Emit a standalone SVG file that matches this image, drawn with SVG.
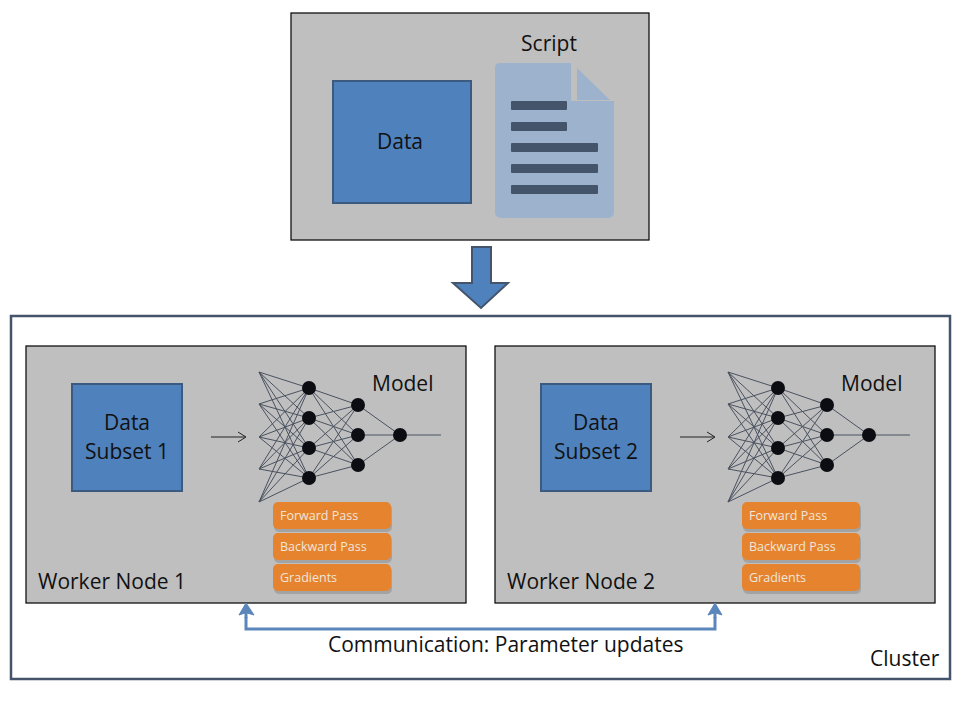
<svg xmlns="http://www.w3.org/2000/svg" width="960" height="720" viewBox="0 0 960 720">
<style>
text{font-family:"Open Sans","Noto Sans","Liberation Sans",sans-serif;fill:#111}
.t{font-size:21px}
.c{text-anchor:middle}
.panel{fill:#bfbfbf;stroke:#111;stroke-width:1.3}
.shadow{fill:#8c8c8c;opacity:.55}
.blue{fill:#4f81bd;stroke:#3c5a80;stroke-width:2}
.edge{fill:none;stroke:#4a5260;stroke-width:1}
.dot{fill:#0b0d12}
.or{fill:#e5832f}
.ot{font-size:12.5px;fill:#f0e6da}
.line{fill:#44546a}
.comm{fill:none;stroke:#5b86bb;stroke-width:3}
</style>
<defs>
<g id="net">
<path class="edge" d="M259 372L309 388M259 372L309 418M259 372L309 448M259 372L309 478M259 404L309 388M259 404L309 418M259 404L309 448M259 404L309 478M259 437L309 388M259 437L309 418M259 437L309 448M259 437L309 478M259 469L309 388M259 469L309 418M259 469L309 448M259 469L309 478M259 502L309 388M259 502L309 418M259 502L309 448M259 502L309 478M309 388L358 405M309 388L358 435M309 388L358 465M309 418L358 405M309 418L358 435M309 418L358 465M309 448L358 405M309 448L358 435M309 448L358 465M309 478L358 405M309 478L358 435M309 478L358 465M358 405L400 435M358 435L400 435M358 465L400 435M400 435L441 435"/>
<circle class="dot" cx="309" cy="388" r="7"/><circle class="dot" cx="309" cy="418" r="7"/><circle class="dot" cx="309" cy="448" r="7"/><circle class="dot" cx="309" cy="478" r="7"/>
<circle class="dot" cx="358" cy="405" r="7"/><circle class="dot" cx="358" cy="435" r="7"/><circle class="dot" cx="358" cy="465" r="7"/><circle class="dot" cx="400" cy="435" r="7"/>
</g>
<g id="pills">
<rect class="shadow" x="274" y="504" width="118" height="28" rx="5"/><rect class="or" x="273" y="502" width="118" height="27" rx="5"/>
<rect class="shadow" x="274" y="535" width="118" height="28" rx="5"/><rect class="or" x="273" y="533" width="118" height="27" rx="5"/>
<rect class="shadow" x="274" y="566" width="118" height="28" rx="5"/><rect class="or" x="273" y="564" width="118" height="27" rx="5"/>
</g>
</defs>
<rect width="960" height="720" fill="#fff"/>

<g id="source-node">
<rect class="panel" x="291" y="13" width="358" height="227"/>
<rect class="blue" x="333" y="81" width="138" height="122"/>
<text class="t c" x="400" y="149">Data</text>
<path d="M500 63H571V101H614V212Q614 218 607 218H502Q495 218 495 212V68Q495 63 500 63Z" fill="#9db3cd"/>
<path d="M577 68L610 100H577Z" fill="#9db3cd"/>
<rect class="line" x="511" y="101" width="56" height="9" rx="1"/>
<rect class="line" x="511" y="122" width="56" height="9" rx="1"/>
<rect class="line" x="511" y="143" width="87" height="9" rx="1"/>
<rect class="line" x="511" y="164" width="87" height="9" rx="1"/>
<rect class="line" x="511" y="185" width="87" height="9" rx="1"/>
<text class="t c" x="549" y="51">Script</text>
</g>

<g id="cluster">
<rect x="11" y="316" width="939" height="363" fill="#fff" stroke="#44546a" stroke-width="2.5"/>
<text class="t" x="870" y="666">Cluster</text>
</g>

<g id="worker-1">
<rect class="panel" x="26" y="346" width="440" height="257"/>
<rect class="blue" x="72" y="384" width="110" height="107"/>
<text class="t c" x="127" y="430">Data</text>
<text class="t c" x="127" y="459">Subset 1</text>
<path d="M211 437H245M238 432L246 437L238 442" fill="none" stroke="#222" stroke-width="1"/>
<use href="#net"/>
<text class="t" x="372" y="391">Model</text>
<use href="#pills"/>
<text class="ot" x="280" y="520">Forward Pass</text>
<text class="ot" x="280" y="551">Backward Pass</text>
<text class="ot" x="280" y="582">Gradients</text>
<text class="t" x="38" y="589">Worker Node 1</text>
</g>

<g id="worker-2">
<rect class="panel" x="495" y="346" width="440" height="257"/>
<rect class="blue" x="541" y="384" width="110" height="107"/>
<text class="t c" x="596" y="430">Data</text>
<text class="t c" x="596" y="459">Subset 2</text>
<path d="M680 437H714M707 432L715 437L707 442" fill="none" stroke="#222" stroke-width="1"/>
<use href="#net" x="469"/>
<text class="t" x="841" y="391">Model</text>
<use href="#pills" x="469"/>
<text class="ot" x="749" y="520">Forward Pass</text>
<text class="ot" x="749" y="551">Backward Pass</text>
<text class="ot" x="749" y="582">Gradients</text>
<text class="t" x="507" y="589">Worker Node 2</text>
</g>

<g id="connectors">
<path d="M472 247H491V283H508L481 308L453 283H472Z" fill="#4f81bd" stroke="#44546a" stroke-width="2"/>
<path class="comm" d="M246 617V629H715V617"/>
<path d="M246 603L254 615L247 613V618H245V613L239 615Z" fill="#5b86bb" stroke="#5b86bb"/>
<path d="M715 603L722 615L716 613V618H714V613L708 615Z" fill="#5b86bb" stroke="#5b86bb"/>
</g>
<text class="t" x="328" y="652">Communication: Parameter updates</text>
</svg>
